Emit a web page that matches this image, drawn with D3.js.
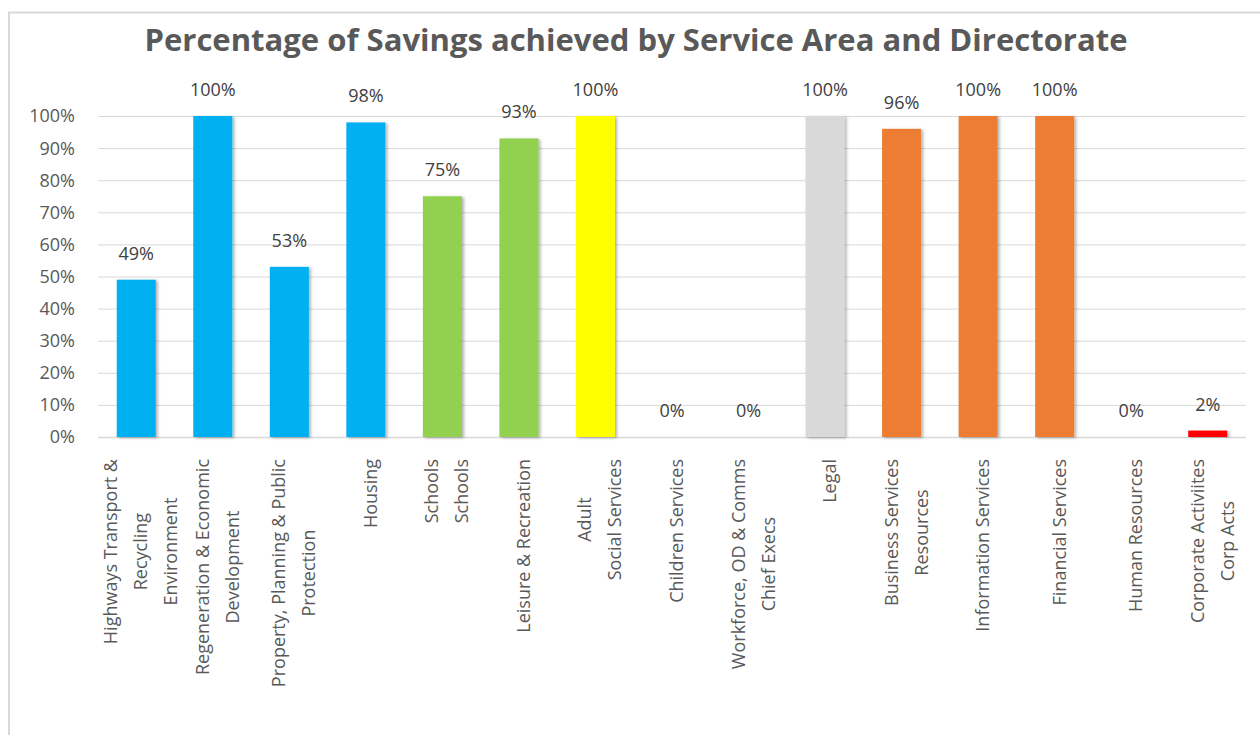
<!DOCTYPE html>
<html>
<head>
<meta charset="utf-8">
<script src="https://cdn.jsdelivr.net/npm/d3@7"></script>
<style>
  body { margin: 0; background: #fff; }
  svg { display: block; font-family: "Open Sans", sans-serif; }
</style>
</head>
<body>
<svg id="chart" width="1260" height="735"></svg>
<script>
// category labels, one entry per line as shown under the bars
const labels = [
    ["Highways Transport &", "Recycling", "Environment"],
    ["Regeneration & Economic", "Development"],
    ["Property, Planning & Public", "Protection"],
    ["Housing"],
    ["Schools", "Schools"],
    ["Leisure & Recreation"],
    ["Adult", "Social Services"],
    ["Children Services"],
    ["Workforce, OD & Comms", "Chief Execs"],
    ["Legal"],
    ["Business Services", "Resources"],
    ["Information Services"],
    ["Financial Services"],
    ["Human Resources"],
    ["Corporate Activiites", "Corp Acts"]
]
// percentage of savings achieved
const values = [49, 100, 53, 98, 75, 93, 100, 0, 0, 100, 96, 100, 100, 0, 2]
// directorate of each service area
const directorates = ["Place", "Place", "Place", "Place", "Schools", "Schools", "Social", "Social",
    "ChiefExecs", "Legal", "Resources", "Resources", "Resources", "HR", "CorpActs"]
const yTicks = [0, 10, 20, 30, 40, 50, 60, 70, 80, 90, 100]

const colour = {
    Place: "#00b0f0", Schools: "#92d050", Social: "#ffff00", ChiefExecs: "#a5a5a5",
    Legal: "#d9d9d9", Resources: "#ed7d31", HR: "#5b9bd5", CorpActs: "#ff0000"
}

const svg = d3.select("#chart");
const margin = { left: 98, right: 1246, top: 116, bottom: 437 };

// outer frame
svg.append("path")
    .attr("d", "M9,735 V12.5 H1260")
    .attr("fill", "none")
    .attr("stroke", "#d9d9d9")
    .attr("stroke-width", 2);

// title
svg.append("text")
    .attr("x", 636).attr("y", 51)
    .attr("text-anchor", "middle")
    .attr("font-size", "31px")
    .attr("font-weight", "bold")
    .attr("fill", "#595959")
    .attr("textLength", 983)
    .attr("lengthAdjust", "spacingAndGlyphs")
    .text("Percentage of Savings achieved by Service Area and Directorate");

let x = d3.scaleBand()
    .domain(d3.range(values.length))
    .range([margin.left, margin.right])
    .paddingInner(0.49)
    .paddingOuter(0.245)

let y = d3.scaleLinear()
    .domain([0, 100])
    .range([margin.bottom, margin.top])

// shadow like the spreadsheet bars
const defs = svg.append("defs");
defs.append("filter").attr("id", "shadow")
    .attr("x", "-20%").attr("y", "-5%").attr("width", "150%").attr("height", "115%")
    .append("feDropShadow")
    .attr("dx", 2).attr("dy", 1)
    .attr("stdDeviation", 1.5)
    .attr("flood-color", "#000")
    .attr("flood-opacity", 0.3);

// gridlines
svg.append("g")
    .selectAll("line")
    .data(yTicks)
    .join("line")
    .attr("x1", margin.left).attr("x2", margin.right)
    .attr("y1", d => y(d) + 0.5).attr("y2", d => y(d) + 0.5)
    .attr("stroke", "#d9d9d9")
    .attr("stroke-width", d => d == 0 ? 1.5 : 1);

// y axis labels
svg.append("g")
    .selectAll("text")
    .data(yTicks)
    .join("text")
    .attr("x", 75)
    .attr("y", d => y(d))
    .attr("dy", "0.36em")
    .attr("text-anchor", "end")
    .attr("font-size", "18px")
    .attr("fill", "#595959")
    .text(d => d + "%");

// bars
svg.append("g")
    .selectAll("rect")
    .data(values)
    .join("rect")
    .attr("x", (d, i) => x(i))
    .attr("width", x.bandwidth())
    .attr("y", d => y(d))
    .attr("height", d => y(0) - y(d))
    .attr("fill", (d, i) => colour[directorates[i]])
    .attr("filter", d => d > 0 ? "url(#shadow)" : null);

// data labels
svg.append("g")
    .selectAll("text")
    .data(values)
    .join("text")
    .attr("x", (d, i) => x(i) + x.bandwidth() / 2)
    .attr("y", d => y(d) - 20)
    .attr("text-anchor", "middle")
    .attr("font-size", "18px")
    .attr("fill", "#404040")
    .text(d => d + "%");

// category labels, rotated, lines centred on the longest one
const labelTop = 459;
const lineGap = 30;
labels.forEach(function (lines, i) {
    let g = svg.append("g");
    let texts = lines.map(function (line, j) {
        let cx = x(i) + x.bandwidth() / 2 + 4 + (j - (lines.length - 1) / 2) * lineGap;
        return g.append("text")
            .attr("font-size", "18px")
            .attr("fill", "#595959")
            .attr("text-anchor", "middle")
            .attr("dominant-baseline", "central")
            .attr("data-cx", cx)
            .text(line);
    });
    let maxLen = d3.max(texts, t => t.node().getComputedTextLength());
    let cy = labelTop + maxLen / 2;
    texts.forEach(function (t) {
        let cx = +t.attr("data-cx");
        t.attr("transform", `translate(${cx},${cy}) rotate(-90)`);
    });
});
</script>
</body>
</html>
